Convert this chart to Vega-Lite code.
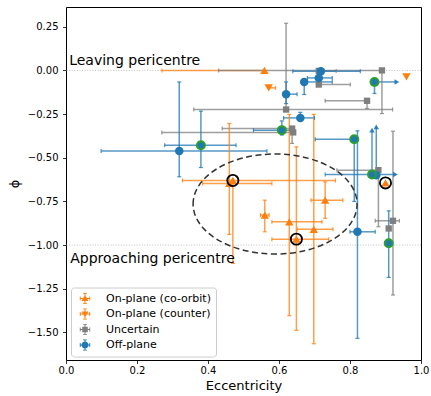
{
  "$schema": "https://vega.github.io/schema/vega-lite/v6.json",
  "autosize": {"type": "none"},
  "width": 355,
  "height": 353,
  "padding": {"left": 66, "top": 7, "right": 10, "bottom": 36},
  "background": "white",
  "config": {
    "view": {"stroke": "#000", "strokeWidth": 1},
    "axis": {"grid": false, "domain": false, "labelFlush": false, "labelOverlap": false, "tickColor": "#000", "tickSize": 3.5, "tickWidth": 0.8, "labelFont": "DejaVu Sans", "labelFontSize": 10, "labelColor": "#000", "titleFont": "DejaVu Sans", "titleFontSize": 13, "titleFontWeight": "normal", "titleColor": "#000"},
    "legend": {"padding": 5, "labelOffset": 12, "rowPadding": 3.5, "clipHeight": 12, "symbolSize": 324, "symbolStrokeWidth": 0, "labelFont": "DejaVu Sans", "labelFontSize": 11, "labelColor": "#000", "fillColor": "rgba(255,255,255,0.8)", "strokeColor": "#cccccc", "cornerRadius": 3, "labelLimit": 300}
  },
  "datasets": {
    "pts": [
      {"cat": "On-plane (co-orbit)", "e": 0.559, "p": 0.0, "xl": 0.27, "xh": 0.559, "yl": 0.0, "yh": 0.0, "hl": "", "arr": ""},
      {"cat": "On-plane (co-orbit)", "e": 0.46, "p": -0.647, "xl": 0.385, "xh": 0.58, "yl": -0.939, "yh": -0.304, "hl": "", "arr": ""},
      {"cat": "On-plane (co-orbit)", "e": 0.47, "p": -0.63, "xl": 0.328, "xh": 0.759, "yl": -1.105, "yh": -0.63, "hl": "black", "arr": ""},
      {"cat": "On-plane (co-orbit)", "e": 0.56, "p": -0.828, "xl": 0.548, "xh": 0.572, "yl": -0.924, "yh": -0.743, "hl": "", "arr": ""},
      {"cat": "On-plane (co-orbit)", "e": 0.629, "p": -0.867, "xl": 0.58, "xh": 0.721, "yl": -1.404, "yh": -0.252, "hl": "", "arr": ""},
      {"cat": "On-plane (co-orbit)", "e": 0.649, "p": -0.966, "xl": 0.58, "xh": 0.74, "yl": -1.488, "yh": -0.438, "hl": "black", "arr": ""},
      {"cat": "On-plane (co-orbit)", "e": 0.698, "p": -0.91, "xl": 0.651, "xh": 0.752, "yl": -1.565, "yh": -0.252, "hl": "", "arr": ""},
      {"cat": "On-plane (co-orbit)", "e": 0.73, "p": -0.743, "xl": 0.69, "xh": 0.78, "yl": -0.847, "yh": -0.638, "hl": "", "arr": ""},
      {"cat": "On-plane (co-orbit)", "e": 0.9, "p": -0.644, "xl": 0.9, "xh": 0.9, "yl": -0.644, "yh": -0.644, "hl": "black", "arr": ""},
      {"cat": "On-plane (counter)", "e": 0.571, "p": -0.1, "xl": 0.571, "xh": 0.59, "yl": -0.1, "yh": -0.1, "hl": "", "arr": ""},
      {"cat": "On-plane (counter)", "e": 0.959, "p": -0.037, "xl": 0.959, "xh": 0.959, "yl": -0.037, "yh": -0.037, "hl": "", "arr": ""},
      {"cat": "Uncertain", "e": 0.89, "p": 0.0, "xl": 0.43, "xh": 0.89, "yl": -0.247, "yh": 0.0, "hl": "", "arr": ""},
      {"cat": "Uncertain", "e": 0.712, "p": -0.003, "xl": 0.712, "xh": 0.761, "yl": -0.003, "yh": -0.003, "hl": "", "arr": ""},
      {"cat": "Uncertain", "e": 0.712, "p": -0.081, "xl": 0.712, "xh": 0.801, "yl": -0.081, "yh": -0.081, "hl": "", "arr": ""},
      {"cat": "Uncertain", "e": 0.848, "p": -0.174, "xl": 0.73, "xh": 0.848, "yl": -0.218, "yh": -0.174, "hl": "", "arr": ""},
      {"cat": "Uncertain", "e": 0.62, "p": -0.224, "xl": 0.36, "xh": 0.92, "yl": -0.224, "yh": 0.27, "hl": "", "arr": ""},
      {"cat": "Uncertain", "e": 0.637, "p": -0.333, "xl": 0.44, "xh": 0.637, "yl": -0.418, "yh": -0.333, "hl": "", "arr": ""},
      {"cat": "Uncertain", "e": 0.64, "p": -0.355, "xl": 0.27, "xh": 0.64, "yl": -0.355, "yh": -0.355, "hl": "", "arr": ""},
      {"cat": "Uncertain", "e": 0.88, "p": -0.571, "xl": 0.763, "xh": 0.88, "yl": -0.895, "yh": -0.571, "hl": "", "arr": ""},
      {"cat": "Uncertain", "e": 0.921, "p": -0.861, "xl": 0.871, "xh": 0.939, "yl": -1.286, "yh": -0.348, "hl": "", "arr": ""},
      {"cat": "Uncertain", "e": 0.909, "p": -0.905, "xl": 0.909, "xh": 0.909, "yl": -0.905, "yh": -0.905, "hl": "", "arr": ""},
      {"cat": "Off-plane", "e": 0.319, "p": -0.462, "xl": 0.099, "xh": 0.566, "yl": -0.609, "yh": -0.066, "hl": "", "arr": ""},
      {"cat": "Off-plane", "e": 0.38, "p": -0.428, "xl": 0.278, "xh": 0.479, "yl": -0.556, "yh": -0.233, "hl": "green", "arr": ""},
      {"cat": "Off-plane", "e": 0.608, "p": -0.342, "xl": 0.528, "xh": 0.64, "yl": -0.37, "yh": -0.289, "hl": "green", "arr": ""},
      {"cat": "Off-plane", "e": 0.62, "p": -0.136, "xl": 0.62, "xh": 0.651, "yl": -0.19, "yh": -0.066, "hl": "", "arr": ""},
      {"cat": "Off-plane", "e": 0.66, "p": -0.272, "xl": 0.613, "xh": 0.7, "yl": -0.29, "yh": -0.24, "hl": "", "arr": ""},
      {"cat": "Off-plane", "e": 0.671, "p": -0.066, "xl": 0.671, "xh": 0.75, "yl": -0.138, "yh": -0.066, "hl": "", "arr": ""},
      {"cat": "Off-plane", "e": 0.712, "p": -0.043, "xl": 0.68, "xh": 0.75, "yl": -0.043, "yh": -0.043, "hl": "", "arr": ""},
      {"cat": "Off-plane", "e": 0.718, "p": -0.005, "xl": 0.639, "xh": 0.829, "yl": -0.005, "yh": -0.005, "hl": "", "arr": ""},
      {"cat": "Off-plane", "e": 0.869, "p": -0.066, "xl": 0.869, "xh": 0.932, "yl": -0.132, "yh": -0.066, "hl": "green", "arr": "x"},
      {"cat": "Off-plane", "e": 0.812, "p": -0.394, "xl": 0.702, "xh": 0.812, "yl": -0.75, "yh": -0.394, "hl": "green", "arr": ""},
      {"cat": "Off-plane", "e": 0.821, "p": -0.924, "xl": 0.8, "xh": 0.871, "yl": -1.534, "yh": -0.346, "hl": "", "arr": ""},
      {"cat": "Off-plane", "e": 0.874, "p": -0.6, "xl": 0.874, "xh": 0.874, "yl": -0.6, "yh": -0.323, "hl": "", "arr": "y"},
      {"cat": "Off-plane", "e": 0.862, "p": -0.596, "xl": 0.73, "xh": 0.928, "yl": -0.596, "yh": -0.342, "hl": "green", "arr": "xy"},
      {"cat": "Off-plane", "e": 0.909, "p": -0.99, "xl": 0.909, "xh": 0.909, "yl": -1.185, "yh": -0.804, "hl": "green", "arr": ""}
    ],
    "refs": [{"p": 0.0}, {"p": -1.0}],
    "txt": [
      {"e": 0.009, "p": 0.03, "t": "Leaving pericentre"},
      {"e": 0.012, "p": -1.105, "t": "Approaching pericentre"}
    ],
    "ell": [{"e": 0.589, "p": -0.765}]
  },
  "layer": [
    {
      "data": {"name": "refs"},
      "mark": {"type": "rule", "color": "#b0b0b0", "strokeWidth": 0.8, "strokeDash": [1, 1.6]},
      "encoding": {
        "y": {"field": "p", "type": "quantitative", "scale": {"domain": [-1.658, 0.363], "nice": false, "zero": false}, "title": "ϕ", "axis": {"values": [-1.5, -1.25, -1, -0.75, -0.5, -0.25, 0, 0.25], "format": ".2f", "labelPadding": 4.5, "titleX": -52, "titleY": 176.5, "titleAngle": -90, "titleBaseline": "middle", "titleAlign": "center"}}
      }
    },
    {
      "data": {"name": "pts"},
      "transform": [{"filter": "datum.xl < datum.xh"}],
      "mark": {"type": "rule", "strokeWidth": 1.5, "opacity": 0.75},
      "encoding": {
        "x": {"field": "xl", "type": "quantitative", "scale": {"domain": [0, 1], "nice": false, "zero": false}, "title": "Eccentricity", "axis": {"values": [0, 0.2, 0.4, 0.6, 0.8, 1], "format": ".1f", "labelPadding": 2, "titleX": 177.5, "titleY": 29, "titleBaseline": "alphabetic", "titleAlign": "center"}},
        "x2": {"field": "xh"},
        "y": {"field": "p", "type": "quantitative", "scale": {"domain": [-1.658, 0.363], "nice": false, "zero": false}, "title": "ϕ", "axis": {"values": [-1.5, -1.25, -1, -0.75, -0.5, -0.25, 0, 0.25], "format": ".2f", "labelPadding": 4.5, "titleX": -52, "titleY": 176.5, "titleAngle": -90, "titleBaseline": "middle", "titleAlign": "center"}},
        "color": {"condition": [{"test": "datum.cat==='Off-plane'", "value": "#1f77b4"}, {"test": "datum.cat==='Uncertain'", "value": "#7f7f7f"}], "value": "#ff7f0e"}
      }
    },
    {
      "data": {"name": "pts"},
      "transform": [{"filter": "datum.yl < datum.yh"}],
      "mark": {"type": "rule", "strokeWidth": 1.5, "opacity": 0.75},
      "encoding": {
        "x": {"field": "e", "type": "quantitative", "scale": {"domain": [0, 1], "nice": false, "zero": false}, "title": "Eccentricity", "axis": {"values": [0, 0.2, 0.4, 0.6, 0.8, 1], "format": ".1f", "labelPadding": 2, "titleX": 177.5, "titleY": 29, "titleBaseline": "alphabetic", "titleAlign": "center"}},
        "y": {"field": "yl", "type": "quantitative", "scale": {"domain": [-1.658, 0.363], "nice": false, "zero": false}, "title": "ϕ", "axis": {"values": [-1.5, -1.25, -1, -0.75, -0.5, -0.25, 0, 0.25], "format": ".2f", "labelPadding": 4.5, "titleX": -52, "titleY": 176.5, "titleAngle": -90, "titleBaseline": "middle", "titleAlign": "center"}},
        "y2": {"field": "yh"},
        "color": {"condition": [{"test": "datum.cat==='Off-plane'", "value": "#1f77b4"}, {"test": "datum.cat==='Uncertain'", "value": "#7f7f7f"}], "value": "#ff7f0e"}
      }
    },
    {
      "data": {"name": "pts"},
      "transform": [{"filter": "datum.xl < datum.e"}],
      "mark": {"type": "tick", "orient": "vertical", "size": 4, "thickness": 1.2, "opacity": 0.8},
      "encoding": {
        "x": {"field": "xl", "type": "quantitative", "scale": {"domain": [0, 1], "nice": false, "zero": false}, "title": "Eccentricity", "axis": {"values": [0, 0.2, 0.4, 0.6, 0.8, 1], "format": ".1f", "labelPadding": 2, "titleX": 177.5, "titleY": 29, "titleBaseline": "alphabetic", "titleAlign": "center"}},
        "y": {"field": "p", "type": "quantitative", "scale": {"domain": [-1.658, 0.363], "nice": false, "zero": false}, "title": "ϕ", "axis": {"values": [-1.5, -1.25, -1, -0.75, -0.5, -0.25, 0, 0.25], "format": ".2f", "labelPadding": 4.5, "titleX": -52, "titleY": 176.5, "titleAngle": -90, "titleBaseline": "middle", "titleAlign": "center"}},
        "color": {"condition": [{"test": "datum.cat==='Off-plane'", "value": "#1f77b4"}, {"test": "datum.cat==='Uncertain'", "value": "#7f7f7f"}], "value": "#ff7f0e"}
      }
    },
    {
      "data": {"name": "pts"},
      "transform": [{"filter": "datum.xh > datum.e && datum.arr !== 'x' && datum.arr !== 'xy'"}],
      "mark": {"type": "tick", "orient": "vertical", "size": 4, "thickness": 1.2, "opacity": 0.8},
      "encoding": {
        "x": {"field": "xh", "type": "quantitative", "scale": {"domain": [0, 1], "nice": false, "zero": false}, "title": "Eccentricity", "axis": {"values": [0, 0.2, 0.4, 0.6, 0.8, 1], "format": ".1f", "labelPadding": 2, "titleX": 177.5, "titleY": 29, "titleBaseline": "alphabetic", "titleAlign": "center"}},
        "y": {"field": "p", "type": "quantitative", "scale": {"domain": [-1.658, 0.363], "nice": false, "zero": false}, "title": "ϕ", "axis": {"values": [-1.5, -1.25, -1, -0.75, -0.5, -0.25, 0, 0.25], "format": ".2f", "labelPadding": 4.5, "titleX": -52, "titleY": 176.5, "titleAngle": -90, "titleBaseline": "middle", "titleAlign": "center"}},
        "color": {"condition": [{"test": "datum.cat==='Off-plane'", "value": "#1f77b4"}, {"test": "datum.cat==='Uncertain'", "value": "#7f7f7f"}], "value": "#ff7f0e"}
      }
    },
    {
      "data": {"name": "pts"},
      "transform": [{"filter": "datum.yl < datum.p"}],
      "mark": {"type": "tick", "orient": "horizontal", "size": 4, "thickness": 1.2, "opacity": 0.8},
      "encoding": {
        "x": {"field": "e", "type": "quantitative", "scale": {"domain": [0, 1], "nice": false, "zero": false}, "title": "Eccentricity", "axis": {"values": [0, 0.2, 0.4, 0.6, 0.8, 1], "format": ".1f", "labelPadding": 2, "titleX": 177.5, "titleY": 29, "titleBaseline": "alphabetic", "titleAlign": "center"}},
        "y": {"field": "yl", "type": "quantitative", "scale": {"domain": [-1.658, 0.363], "nice": false, "zero": false}, "title": "ϕ", "axis": {"values": [-1.5, -1.25, -1, -0.75, -0.5, -0.25, 0, 0.25], "format": ".2f", "labelPadding": 4.5, "titleX": -52, "titleY": 176.5, "titleAngle": -90, "titleBaseline": "middle", "titleAlign": "center"}},
        "color": {"condition": [{"test": "datum.cat==='Off-plane'", "value": "#1f77b4"}, {"test": "datum.cat==='Uncertain'", "value": "#7f7f7f"}], "value": "#ff7f0e"}
      }
    },
    {
      "data": {"name": "pts"},
      "transform": [{"filter": "datum.yh > datum.p && datum.arr !== 'y' && datum.arr !== 'xy'"}],
      "mark": {"type": "tick", "orient": "horizontal", "size": 4, "thickness": 1.2, "opacity": 0.8},
      "encoding": {
        "x": {"field": "e", "type": "quantitative", "scale": {"domain": [0, 1], "nice": false, "zero": false}, "title": "Eccentricity", "axis": {"values": [0, 0.2, 0.4, 0.6, 0.8, 1], "format": ".1f", "labelPadding": 2, "titleX": 177.5, "titleY": 29, "titleBaseline": "alphabetic", "titleAlign": "center"}},
        "y": {"field": "yh", "type": "quantitative", "scale": {"domain": [-1.658, 0.363], "nice": false, "zero": false}, "title": "ϕ", "axis": {"values": [-1.5, -1.25, -1, -0.75, -0.5, -0.25, 0, 0.25], "format": ".2f", "labelPadding": 4.5, "titleX": -52, "titleY": 176.5, "titleAngle": -90, "titleBaseline": "middle", "titleAlign": "center"}},
        "color": {"condition": [{"test": "datum.cat==='Off-plane'", "value": "#1f77b4"}, {"test": "datum.cat==='Uncertain'", "value": "#7f7f7f"}], "value": "#ff7f0e"}
      }
    },
    {
      "data": {"name": "pts"},
      "transform": [{"filter": "datum.arr === 'x' || datum.arr === 'xy'"}],
      "mark": {"type": "point", "shape": "triangle-right", "filled": true, "size": 30, "opacity": 0.9},
      "encoding": {
        "x": {"field": "xh", "type": "quantitative", "scale": {"domain": [0, 1], "nice": false, "zero": false}, "title": "Eccentricity", "axis": {"values": [0, 0.2, 0.4, 0.6, 0.8, 1], "format": ".1f", "labelPadding": 2, "titleX": 177.5, "titleY": 29, "titleBaseline": "alphabetic", "titleAlign": "center"}},
        "y": {"field": "p", "type": "quantitative", "scale": {"domain": [-1.658, 0.363], "nice": false, "zero": false}, "title": "ϕ", "axis": {"values": [-1.5, -1.25, -1, -0.75, -0.5, -0.25, 0, 0.25], "format": ".2f", "labelPadding": 4.5, "titleX": -52, "titleY": 176.5, "titleAngle": -90, "titleBaseline": "middle", "titleAlign": "center"}},
        "color": {"condition": [{"test": "datum.cat==='Off-plane'", "value": "#1f77b4"}, {"test": "datum.cat==='Uncertain'", "value": "#7f7f7f"}], "value": "#ff7f0e"}
      }
    },
    {
      "data": {"name": "pts"},
      "transform": [{"filter": "datum.arr === 'y' || datum.arr === 'xy'"}],
      "mark": {"type": "point", "shape": "triangle-up", "filled": true, "size": 30, "opacity": 0.9},
      "encoding": {
        "x": {"field": "e", "type": "quantitative", "scale": {"domain": [0, 1], "nice": false, "zero": false}, "title": "Eccentricity", "axis": {"values": [0, 0.2, 0.4, 0.6, 0.8, 1], "format": ".1f", "labelPadding": 2, "titleX": 177.5, "titleY": 29, "titleBaseline": "alphabetic", "titleAlign": "center"}},
        "y": {"field": "yh", "type": "quantitative", "scale": {"domain": [-1.658, 0.363], "nice": false, "zero": false}, "title": "ϕ", "axis": {"values": [-1.5, -1.25, -1, -0.75, -0.5, -0.25, 0, 0.25], "format": ".2f", "labelPadding": 4.5, "titleX": -52, "titleY": 176.5, "titleAngle": -90, "titleBaseline": "middle", "titleAlign": "center"}},
        "color": {"condition": [{"test": "datum.cat==='Off-plane'", "value": "#1f77b4"}, {"test": "datum.cat==='Uncertain'", "value": "#7f7f7f"}], "value": "#ff7f0e"}
      }
    },
    {
      "data": {"name": "ell"},
      "mark": {"type": "point", "shape": "M -1 0 C -1 -0.337 -0.552 -0.61 0 -0.61 C 0.552 -0.61 1 -0.337 1 0 C 1 0.337 0.552 0.61 0 0.61 C -0.552 0.61 -1 0.337 -1 0 Z", "size": 26896, "filled": false, "stroke": "#333333", "strokeWidth": 1.5, "strokeDash": [6, 3.5], "opacity": 1},
      "encoding": {
        "x": {"field": "e", "type": "quantitative", "scale": {"domain": [0, 1], "nice": false, "zero": false}, "title": "Eccentricity", "axis": {"values": [0, 0.2, 0.4, 0.6, 0.8, 1], "format": ".1f", "labelPadding": 2, "titleX": 177.5, "titleY": 29, "titleBaseline": "alphabetic", "titleAlign": "center"}},
        "y": {"field": "p", "type": "quantitative", "scale": {"domain": [-1.658, 0.363], "nice": false, "zero": false}, "title": "ϕ", "axis": {"values": [-1.5, -1.25, -1, -0.75, -0.5, -0.25, 0, 0.25], "format": ".2f", "labelPadding": 4.5, "titleX": -52, "titleY": 176.5, "titleAngle": -90, "titleBaseline": "middle", "titleAlign": "center"}}
      }
    },
    {
      "data": {"name": "pts"},
      "mark": {"type": "point", "filled": true, "opacity": 1, "strokeWidth": 2},
      "encoding": {
        "x": {"field": "e", "type": "quantitative", "scale": {"domain": [0, 1], "nice": false, "zero": false}, "title": "Eccentricity", "axis": {"values": [0, 0.2, 0.4, 0.6, 0.8, 1], "format": ".1f", "labelPadding": 2, "titleX": 177.5, "titleY": 29, "titleBaseline": "alphabetic", "titleAlign": "center"}},
        "y": {"field": "p", "type": "quantitative", "scale": {"domain": [-1.658, 0.363], "nice": false, "zero": false}, "title": "ϕ", "axis": {"values": [-1.5, -1.25, -1, -0.75, -0.5, -0.25, 0, 0.25], "format": ".2f", "labelPadding": 4.5, "titleX": -52, "titleY": 176.5, "titleAngle": -90, "titleBaseline": "middle", "titleAlign": "center"}},
        "color": {"condition": [{"test": "datum.cat==='Off-plane'", "value": "#1f77b4"}, {"test": "datum.cat==='Uncertain'", "value": "#7f7f7f"}], "value": "#ff7f0e"},
        "shape": {"condition": [{"test": "datum.cat==='Off-plane'", "value": "circle"}, {"test": "datum.cat==='Uncertain'", "value": "square"}, {"test": "datum.cat==='On-plane (counter)'", "value": "triangle-down"}], "value": "triangle-up"},
        "size": {"condition": [{"test": "datum.hl==='green'", "value": 64}, {"test": "datum.cat==='Off-plane'", "value": 72}, {"test": "datum.cat==='Uncertain'", "value": 40}], "value": 70},
        "stroke": {"condition": {"test": "datum.hl==='green'", "value": "#2ca02c"}, "value": "transparent"}
      }
    },
    {
      "data": {"name": "pts"},
      "transform": [{"filter": "datum.hl==='black'"}],
      "mark": {"type": "point", "shape": "circle", "filled": false, "size": 125, "stroke": "#000000", "strokeWidth": 1.8, "opacity": 1},
      "encoding": {
        "x": {"field": "e", "type": "quantitative", "scale": {"domain": [0, 1], "nice": false, "zero": false}, "title": "Eccentricity", "axis": {"values": [0, 0.2, 0.4, 0.6, 0.8, 1], "format": ".1f", "labelPadding": 2, "titleX": 177.5, "titleY": 29, "titleBaseline": "alphabetic", "titleAlign": "center"}},
        "y": {"field": "p", "type": "quantitative", "scale": {"domain": [-1.658, 0.363], "nice": false, "zero": false}, "title": "ϕ", "axis": {"values": [-1.5, -1.25, -1, -0.75, -0.5, -0.25, 0, 0.25], "format": ".2f", "labelPadding": 4.5, "titleX": -52, "titleY": 176.5, "titleAngle": -90, "titleBaseline": "middle", "titleAlign": "center"}}
      }
    },
    {
      "data": {"name": "txt"},
      "mark": {"type": "text", "font": "DejaVu Sans", "fontSize": 14, "align": "left", "baseline": "alphabetic", "color": "#000000"},
      "encoding": {
        "x": {"field": "e", "type": "quantitative", "scale": {"domain": [0, 1], "nice": false, "zero": false}, "title": "Eccentricity", "axis": {"values": [0, 0.2, 0.4, 0.6, 0.8, 1], "format": ".1f", "labelPadding": 2, "titleX": 177.5, "titleY": 29, "titleBaseline": "alphabetic", "titleAlign": "center"}},
        "y": {"field": "p", "type": "quantitative", "scale": {"domain": [-1.658, 0.363], "nice": false, "zero": false}, "title": "ϕ", "axis": {"values": [-1.5, -1.25, -1, -0.75, -0.5, -0.25, 0, 0.25], "format": ".2f", "labelPadding": 4.5, "titleX": -52, "titleY": 176.5, "titleAngle": -90, "titleBaseline": "middle", "titleAlign": "center"}},
        "text": {"field": "t"}
      }
    },
    {
      "data": {"name": "pts"},
      "transform": [{"filter": "false"}],
      "mark": {"type": "point", "filled": true, "opacity": 1, "size": 324},
      "encoding": {
        "color": {"field": "cat", "type": "nominal", "scale": {"domain": ["On-plane (co-orbit)", "On-plane (counter)", "Uncertain", "Off-plane"], "range": ["#ff7f0e", "#ff7f0e", "#7f7f7f", "#1f77b4"]}, "legend": {"title": null, "orient": "none", "legendX": 5, "legendY": 280.5, "labelOffset": 12, "clipHeight": 12, "symbolSize": 324}},
        "shape": {"field": "cat", "type": "nominal", "scale": {"domain": ["On-plane (co-orbit)", "On-plane (counter)", "Uncertain", "Off-plane"], "range": [
          "M -0.58 -0.056 H 0.58 V 0.056 H -0.58 Z M -0.056 -0.62 H 0.056 V 0.62 H -0.056 Z M -0.58 -0.22 H -0.48 V 0.22 H -0.58 Z M 0.48 -0.22 H 0.58 V 0.22 H 0.48 Z M -0.22 -0.62 H 0.22 V -0.52 H -0.22 Z M -0.22 0.52 H 0.22 V 0.62 H -0.22 Z M 0 -0.38 L 0.39 0.28 L -0.39 0.28 Z",
          "M -0.58 -0.056 H 0.58 V 0.056 H -0.58 Z M -0.056 -0.62 H 0.056 V 0.62 H -0.056 Z M -0.58 -0.22 H -0.48 V 0.22 H -0.58 Z M 0.48 -0.22 H 0.58 V 0.22 H 0.48 Z M -0.22 -0.62 H 0.22 V -0.52 H -0.22 Z M -0.22 0.52 H 0.22 V 0.62 H -0.22 Z M 0 0.38 L -0.39 -0.28 L 0.39 -0.28 Z",
          "M -0.58 -0.056 H 0.58 V 0.056 H -0.58 Z M -0.056 -0.62 H 0.056 V 0.62 H -0.056 Z M -0.58 -0.22 H -0.48 V 0.22 H -0.58 Z M 0.48 -0.22 H 0.58 V 0.22 H 0.48 Z M -0.22 -0.62 H 0.22 V -0.52 H -0.22 Z M -0.22 0.52 H 0.22 V 0.62 H -0.22 Z M -0.31 -0.31 H 0.31 V 0.31 H -0.31 Z",
          "M -0.58 -0.056 H 0.58 V 0.056 H -0.58 Z M -0.056 -0.62 H 0.056 V 0.62 H -0.056 Z M -0.58 -0.22 H -0.48 V 0.22 H -0.58 Z M 0.48 -0.22 H 0.58 V 0.22 H 0.48 Z M -0.22 -0.62 H 0.22 V -0.52 H -0.22 Z M -0.22 0.52 H 0.22 V 0.62 H -0.22 Z M -0.39 0 C -0.39 -0.215 -0.215 -0.39 0 -0.39 C 0.215 -0.39 0.39 -0.215 0.39 0 C 0.39 0.215 0.215 0.39 0 0.39 C -0.215 0.39 -0.39 0.215 -0.39 0 Z"
        ]}, "legend": {"title": null, "orient": "none", "legendX": 5, "legendY": 280.5, "labelOffset": 12, "clipHeight": 12, "symbolSize": 324}}
      }
    }
  ]
}
